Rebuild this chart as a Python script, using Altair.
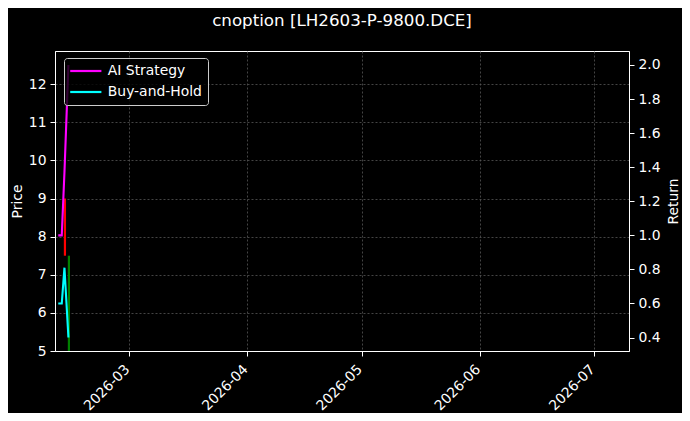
import altair as alt
import pandas as pd

# ---- data ----
line_dates = ["2026-02-10T09:00:00", "2026-02-11T07:00:00",
              "2026-02-12T00:00:00", "2026-02-13T01:00:00"]
ai_strategy = [1.0, 1.0, 1.37, 2.0]
buy_and_hold = [0.6, 0.6, 0.81, 0.4]

candle_dates = ["2026-02-12T03:00:00", "2026-02-13T04:00:00"]
candle_open = [9.0, 5.0]
candle_close = [7.5, 7.5]
candle_color = ["red", "green"]

price_ticks = [5, 6, 7, 8, 9, 10, 11, 12]
return_ticks = [0.4, 0.6, 0.8, 1.0, 1.2, 1.4, 1.6, 1.8, 2.0]
month_ticks = [3, 4, 5, 6, 7]
series_names = ["AI Strategy", "Buy-and-Hold"]
series_colors = ["#ff00ff", "#00ffff"]

# ---- tables ----
ldf = pd.DataFrame({
    "date": line_dates * 2,
    "value": ai_strategy + buy_and_hold,
    "series": [series_names[0]] * len(line_dates) + [series_names[1]] * len(line_dates),
})
cdf = pd.DataFrame({"date": candle_dates, "open": candle_open,
                    "close": candle_close, "col": candle_color})

FONT = "DejaVu Sans"
FS = 13.9
x_scale = alt.Scale(domain=[alt.DateTime(year=2026, month=2, date=9, hours=12, minutes=29),
                            alt.DateTime(year=2026, month=7, date=10, hours=1, minutes=40)])
x_axis = alt.Axis(title=None, format="%Y-%m",
                  values=[alt.DateTime(year=2026, month=m, date=1) for m in month_ticks],
                  labelAngle=-45, labelAlign="right", labelBaseline="top",
                  labelPadding=6, labelOffset=-7)

candles = alt.Chart(cdf).mark_rule(strokeWidth=2.2, clip=True).encode(
    x=alt.X("date:T", scale=x_scale, axis=x_axis),
    y=alt.Y("open:Q", scale=alt.Scale(domain=[5, 12.87], nice=False, zero=False),
            axis=alt.Axis(title="Price", orient="left", values=price_ticks,
                          format="d", titlePadding=4)),
    y2="close:Q",
    color=alt.Color("col:N", scale=None),
)

lines = alt.Chart(ldf).mark_line(strokeWidth=2.1, clip=True).encode(
    x=alt.X("date:T", scale=x_scale, axis=x_axis),
    y=alt.Y("value:Q", scale=alt.Scale(domain=[0.321, 2.082], nice=False, zero=False),
            axis=alt.Axis(title="Return", orient="right", values=return_ticks,
                          format=".1f", titlePadding=20, titleAngle=270)),
    color=alt.Color("series:N",
                    scale=alt.Scale(domain=series_names, range=series_colors),
                    legend=alt.Legend(title=None, orient="none", legendX=9, legendY=7,
                                      symbolType="M-2.6,0H2.6", symbolSize=144,
                                      symbolStrokeWidth=2.2, symbolOffset=8.8,
                                      labelFontSize=FS,
                                      labelColor="white", labelFont=FONT,
                                      fillColor="rgba(0,0,0,0.8)", strokeColor="#cccccc",
                                      cornerRadius=3, padding=5.5, rowPadding=6,
                                      labelOffset=14.5)),
    order=alt.Order("series:N"),
)

chart = alt.layer(candles, lines).resolve_scale(
    y="independent", color="independent"
).properties(
    width=574, height=300,
    padding={"left": 47, "top": 43, "right": 53, "bottom": 62},
    autosize=alt.AutoSizeParams(type="none"),
    background="black",
    title=alt.TitleParams("cnoption [LH2603-P-9800.DCE]", fontSize=16.7, color="white",
                          font=FONT, fontWeight="normal", anchor="middle",
                          frame="group", baseline="alphabetic", offset=8),
).configure_view(
    stroke="white", strokeWidth=1
).configure_axis(
    domainColor="white", tickColor="white", labelColor="white", titleColor="white",
    labelFont=FONT, titleFont=FONT, labelFontSize=FS, titleFontSize=FS,
    titleFontWeight="normal", tickSize=5, labelPadding=4,
    grid=True, gridColor="#555555", gridDash=[2, 2], gridWidth=0.8,
)

chart.save("out.html", embed_options={"renderer": "svg", "actions": False})
